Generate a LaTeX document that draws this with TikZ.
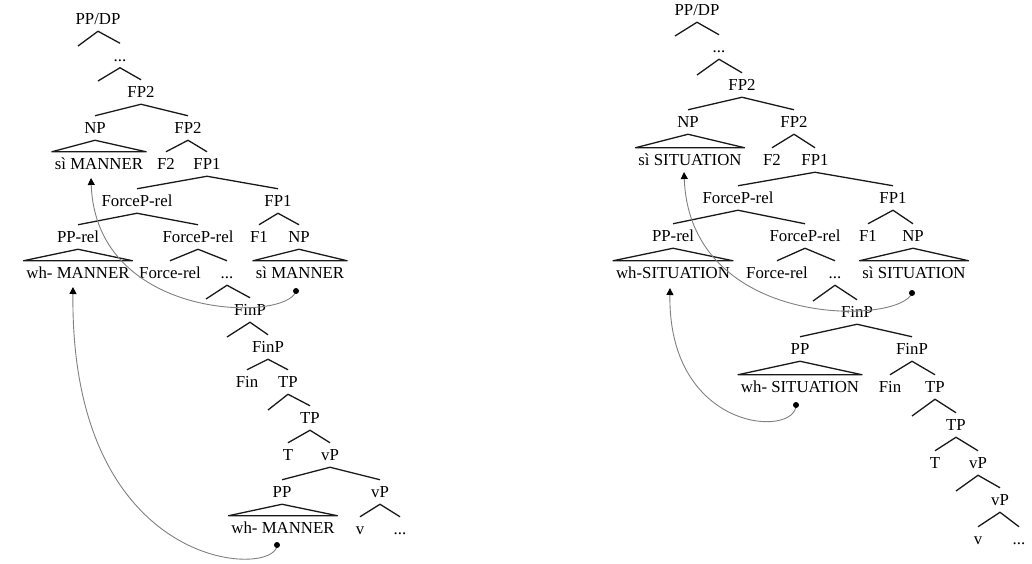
\documentclass[tikz,border=0pt]{standalone}
\usepackage{fontspec}
\setmainfont{Liberation Serif}
\usetikzlibrary{arrows.meta}
\begin{document}
\begin{tikzpicture}[x=1pt,y=-1pt,
  lab/.style={font=\fontsize{16.8}{20}\selectfont, text height=11.5pt, text depth=0pt,
              inner sep=0pt, outer xsep=0pt, outer ysep=6.5pt},
  tri/.style={lab, inner xsep=3pt},
  br/.style={draw=black!90, line width=1.3pt, line join=round},
  mv/.style={draw=black!50, line width=0.9pt,
             -{Triangle[length=7pt,width=7pt,color=black]}},
  dot/.style={fill=black}
]
\useasboundingbox (0,0) rectangle (1032,563);

% ---------------- left tree ----------------
\node[lab] (L_ppdp) at (98,19) {PP/DP};
\coordinate (Le1) at (78,46);
\node[lab] (L_dots1) at (120,55.5) {...};
\coordinate (Le2) at (98,81);
\node[lab] (L_fp2a) at (141,92) {FP2};
\node[lab] (L_np) at (95,128) {NP};
\node[lab] (L_fp2b) at (188,128) {FP2};
\node[tri] (L_si) at (99,164) {sì MANNER};
\node[lab] (L_f2) at (166,164) {F2};
\node[lab] (L_fp1a) at (207,164) {FP1};
\node[lab] (L_force) at (137,201) {ForceP-rel};
\node[lab] (L_fp1b) at (278,201) {FP1};
\node[lab] (L_pprel) at (78,237) {PP-rel};
\node[lab] (L_force2) at (198,237) {ForceP-rel};
\node[lab] (L_f1) at (259,237) {F1};
\node[lab] (L_np2) at (299,237) {NP};
\node[tri] (L_wh) at (78,273) {wh- MANNER};
\node[lab] (L_forcerel) at (170,273) {Force-rel};
\node[lab] (L_dots2) at (227,273) {...};
\node[tri] (L_si2) at (300,273) {sì MANNER};
\coordinate (Le3) at (206,299);
\node[lab] (L_finp) at (250,310) {FinP};
\coordinate (Le4) at (227,337);
\node[lab] (L_finp2) at (268,347) {FinP};
\node[lab] (L_fin) at (247,382) {Fin};
\node[lab] (L_tp) at (288,382) {TP};
\coordinate (Le5) at (268,410);
\node[lab] (L_tp2) at (310,418) {TP};
\node[lab] (L_t) at (288,455) {T};
\node[lab] (L_vp) at (330,455) {vP};
\node[lab] (L_pp) at (282,492) {PP};
\node[lab] (L_vp2) at (380,492) {vP};
\node[tri] (L_wh2) at (283,528) {wh- MANNER};
\node[lab] (L_v) at (360,529) {v};
\node[lab] (L_dots3) at (400,529) {...};

\draw[br] (Le1) -- (L_ppdp.south) -- (L_dots1.north);
\draw[br] (Le2) -- (L_dots1.south) -- (L_fp2a.north);
\draw[br] (L_np.north) -- (L_fp2a.south) -- (L_fp2b.north);
\draw[br] (L_si.north west) -- (L_np.south) -- (L_si.north east) -- cycle;
\draw[br] (L_f2.north) -- (L_fp2b.south) -- (L_fp1a.north);
\draw[br] (L_force.north) -- (L_fp1a.south) -- (L_fp1b.north);
\draw[br] (L_pprel.north) -- (L_force.south) -- (L_force2.north);
\draw[br] (L_f1.north) -- (L_fp1b.south) -- (L_np2.north);
\draw[br] (L_wh.north west) -- (L_pprel.south) -- (L_wh.north east) -- cycle;
\draw[br] (L_forcerel.north) -- (L_force2.south) -- (L_dots2.north);
\draw[br] (L_si2.north west) -- (L_np2.south) -- (L_si2.north east) -- cycle;
\draw[br] (Le3) -- (L_dots2.south) -- (L_finp.north);
\draw[br] (Le4) -- (L_finp.south) -- (L_finp2.north);
\draw[br] (L_fin.north) -- (L_finp2.south) -- (L_tp.north);
\draw[br] (Le5) -- (L_tp.south) -- (L_tp2.north);
\draw[br] (L_t.north) -- (L_tp2.south) -- (L_vp.north);
\draw[br] (L_pp.north) -- (L_vp.south) -- (L_vp2.north);
\draw[br] (L_wh2.north west) -- (L_pp.south) -- (L_wh2.north east) -- cycle;
\draw[br] (L_v.north) -- (L_vp2.south) -- (L_dots3.north);

% movement, left
\coordinate (La1) at (296,291);
\coordinate (Lt1) at (91,178);
\coordinate (La2) at (277,545);
\coordinate (Lt2) at (73,287);
\draw[mv] (La1) .. controls (288,322) and (96,322) .. (Lt1);
\draw[mv] (La2) .. controls (277,578) and (70,575) .. (Lt2);
\fill[dot] (La1) circle (3);
\fill[dot] (La2) circle (3);

% ---------------- right tree ----------------
\node[lab] (R_ppdp) at (697,10) {PP/DP};
\coordinate (Re1) at (675,36);
\node[lab] (R_dots1) at (719,47) {...};
\coordinate (Re2) at (697,75);
\node[lab] (R_fp2a) at (742,85) {FP2};
\node[lab] (R_np) at (688,122) {NP};
\node[lab] (R_fp2b) at (794,122) {FP2};
\node[tri] (R_si) at (690,160) {sì SITUATION};
\node[lab] (R_f2) at (772,160) {F2};
\node[lab] (R_fp1a) at (815,160) {FP1};
\node[lab] (R_force) at (738,198) {ForceP-rel};
\node[lab] (R_fp1b) at (893,198) {FP1};
\node[lab] (R_pprel) at (673,236) {PP-rel};
\node[lab] (R_force2) at (805,236) {ForceP-rel};
\node[lab] (R_f1) at (868,236) {F1};
\node[lab] (R_np2) at (913,236) {NP};
\node[tri] (R_wh) at (673,273) {wh-SITUATION};
\node[lab] (R_forcerel) at (777,273) {Force-rel};
\node[lab] (R_dots2) at (835,273) {...};
\node[tri] (R_si2) at (914,273) {sì SITUATION};
\coordinate (Re3) at (813,301);
\node[lab] (R_finp) at (857,312) {FinP};
\node[lab] (R_pp) at (800,349) {PP};
\node[lab] (R_finp2) at (912,349) {FinP};
\node[tri] (R_wh2) at (800,387) {wh- SITUATION};
\node[lab] (R_fin) at (890,387) {Fin};
\node[lab] (R_tp) at (935,387) {TP};
\coordinate (Re4) at (912,416);
\node[lab] (R_tp2) at (956,425) {TP};
\node[lab] (R_t) at (935,463) {T};
\node[lab] (R_vp) at (978,463) {vP};
\coordinate (Re5) at (956,491);
\node[lab] (R_vp2) at (1000,500) {vP};
\node[lab] (R_v) at (978,539) {v};
\node[lab] (R_dots3) at (1019,539) {...};

\draw[br] (Re1) -- (R_ppdp.south) -- (R_dots1.north);
\draw[br] (Re2) -- (R_dots1.south) -- (R_fp2a.north);
\draw[br] (R_np.north) -- (R_fp2a.south) -- (R_fp2b.north);
\draw[br] (R_si.north west) -- (R_np.south) -- (R_si.north east) -- cycle;
\draw[br] (R_f2.north) -- (R_fp2b.south) -- (R_fp1a.north);
\draw[br] (R_force.north) -- (R_fp1a.south) -- (R_fp1b.north);
\draw[br] (R_pprel.north) -- (R_force.south) -- (R_force2.north);
\draw[br] (R_f1.north) -- (R_fp1b.south) -- (R_np2.north);
\draw[br] (R_wh.north west) -- (R_pprel.south) -- (R_wh.north east) -- cycle;
\draw[br] (R_forcerel.north) -- (R_force2.south) -- (R_dots2.north);
\draw[br] (R_si2.north west) -- (R_np2.south) -- (R_si2.north east) -- cycle;
\draw[br] (Re3) -- (R_dots2.south) -- (R_finp.north);
\draw[br] (R_pp.north) -- (R_finp.south) -- (R_finp2.north);
\draw[br] (R_wh2.north west) -- (R_pp.south) -- (R_wh2.north east) -- cycle;
\draw[br] (R_fin.north) -- (R_finp2.south) -- (R_tp.north);
\draw[br] (Re4) -- (R_tp.south) -- (R_tp2.north);
\draw[br] (R_t.north) -- (R_tp2.south) -- (R_vp.north);
\draw[br] (Re5) -- (R_vp.south) -- (R_vp2.north);
\draw[br] (R_v.north) -- (R_vp2.south) -- (R_dots3.north);

% movement, right
\coordinate (Ra1) at (912,293);
\coordinate (Rt1) at (684,172);
\coordinate (Ra2) at (796,405);
\coordinate (Rt2) at (670,288);
\draw[mv] (Ra1) .. controls (900,325) and (690,330) .. (Rt1);
\draw[mv] (Ra2) .. controls (796,438) and (668,432) .. (Rt2);
\fill[dot] (Ra1) circle (3);
\fill[dot] (Ra2) circle (3);
\end{tikzpicture}
\end{document}
